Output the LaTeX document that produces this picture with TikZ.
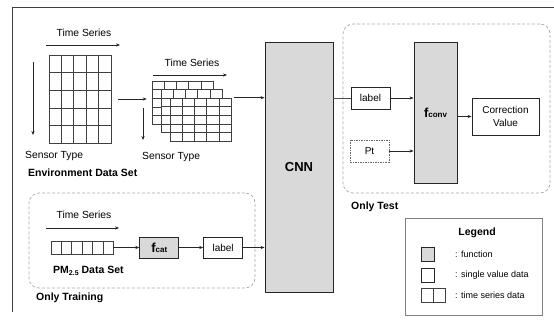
\documentclass[tikz,border=0pt]{standalone}
\usepackage{fontspec}
\setmainfont{Liberation Sans}
\usetikzlibrary{arrows.meta,calc,positioning}
\definecolor{fngray}{RGB}{217,217,217}
\definecolor{dashgray}{RGB}{170,170,170}
\definecolor{linegray}{RGB}{64,64,64}
\tikzstyle{fnbox} = [rectangle, draw=black!85, fill=fngray, line width=0.9pt, inner sep=0pt]
\tikzstyle{valbox} = [rectangle, draw=black!85, fill=white, line width=0.9pt, inner sep=0pt,
    align=center, font=\fontsize{10}{13}\selectfont]
\tikzstyle{serbox} = [rectangle, draw=black!75, fill=white, line width=0.6pt, inner sep=0pt]
\tikzstyle{cell} = [draw=black!75, line width=0.6pt]
\tikzstyle{region} = [rectangle, draw=dashgray, dash pattern=on 3pt off 2pt,
    rounded corners=10pt, line width=0.7pt]
\tikzstyle{arr} = [-{Stealth[length=4pt,width=3.2pt]}, draw=black!85, line width=0.6pt]
\tikzstyle{txt} = [inner sep=0pt, font=\fontsize{10.3}{12}\selectfont]
\tikzstyle{boldtxt} = [inner sep=0pt, font=\bfseries\fontsize{10.5}{12}\selectfont]
\tikzstyle{keytxt} = [inner sep=0pt, anchor=west, font=\fontsize{9}{11}\selectfont]
\newcommand{\fsub}[2]{{\fontsize{13}{14}\selectfont #1}{\fontsize{8}{9}\selectfont #2}}
\newcommand{\lowsub}[1]{\raisebox{-2.2pt}{\fontsize{7}{8}\selectfont #1}}
% cell lines inside a node: name, columns, rows
\newcommand{\cellgrid}[3]{%
  \foreach \i in {1,...,#2}
    \draw[cell] ($(#1.north west)!{\i/#2}!(#1.north east)$) -- ($(#1.south west)!{\i/#2}!(#1.south east)$);
  \foreach \j in {1,...,#3}
    \draw[cell] ($(#1.north west)!{\j/#3}!(#1.south west)$) -- ($(#1.north east)!{\j/#3}!(#1.south east)$);
}

\begin{document}
\begin{tikzpicture}[x=1pt,y=-1pt]
  \useasboundingbox (0,0) rectangle (554,323);
  \draw[line width=0.8pt, draw=linegray] (12,312) -- (12,7) -- (554,7);

  % environment data set
  \node[serbox, minimum width=62pt, minimum height=88pt] (env) at (80,99) {};
  \cellgrid{env}{5}{5}
  \node[txt] (envtime) at (84,33) {Time Series};
  \coordinate (envtA) at (46,45);
  \coordinate (envtB) at (120,45);
  \draw[arr] (envtA) -- (envtB);
  \coordinate (envsA) at (33,62);
  \coordinate (envsB) at (33,135);
  \draw[arr] (envsA) -- (envsB);
  \node[txt, anchor=west] (envsensor) at (25,156) {Sensor Type};
  \node[boldtxt, anchor=west] (envset) at (28,173) {Environment Data Set};

  % stacked windows
  \node[serbox, minimum width=61pt, minimum height=43pt] (stkA) at (182.5,102.5) {};
  \cellgrid{stkA}{5}{5}
  \node[serbox, minimum width=61pt, minimum height=43pt] (stkB) at (191.5,111) {};
  \cellgrid{stkB}{5}{5}
  \node[serbox, minimum width=61pt, minimum height=43pt] (stkC) at (200.5,119.5) {};
  \cellgrid{stkC}{5}{5}
  \node[txt] (stktime) at (192,63) {Time Series};
  \coordinate (stktA) at (153,75);
  \coordinate (stktB) at (227,75);
  \draw[arr] (stktA) -- (stktB);
  \coordinate (stksA) at (143,108);
  \coordinate (stksB) at (143,140);
  \draw[arr] (stksA) -- (stksB);
  \node[txt, anchor=west] (stksensor) at (142,157) {Sensor Type};
  \draw[arr, shorten <=7pt, shorten >=5pt] (env.east) -- (env.east -| stkA.west);

  % network
  \node[fnbox, minimum width=68pt, minimum height=250pt] (cnn) at (299,167)
    {\bfseries\fontsize{13}{14}\selectfont CNN};
  \draw[arr, shorten <=3pt] (stkC.north east) -- (stkC.north east -| cnn.west);

  % only training
  \node[region, minimum width=226pt, minimum height=95pt] (train) at (142,240.5) {};
  \node[txt] (sertime) at (84,215) {Time Series};
  \coordinate (sertA) at (46,228);
  \coordinate (sertB) at (119,228);
  \draw[arr] (sertA) -- (sertB);
  \node[serbox, minimum width=62pt, minimum height=13pt] (ser) at (82,247.5) {};
  \cellgrid{ser}{6}{1}
  \node[fnbox, minimum width=39pt, minimum height=21pt, right=26pt of ser] (fcat)
    {\bfseries\fsub{f}{cat}};
  \node[valbox, minimum width=39pt, minimum height=21pt, right=24pt of fcat] (labT) {label};
  \node[boldtxt, anchor=west] (pmset) at (53,271) {PM\lowsub{2.5} Data Set};
  \node[boldtxt, anchor=west] (trainname) at (36,298) {Only Training};
  \draw[arr] (ser) -- (fcat);
  \draw[arr] (fcat) -- (labT);
  \draw[arr] (labT.east) -- (labT.east -| cnn.west);

  % only test
  \node[region, minimum width=207pt, minimum height=169pt] (test) at (446.5,108.5) {};
  \node[valbox, minimum width=39pt, minimum height=22pt] (labE) at (370.5,98) {label};
  \node[valbox, draw=black!60, line width=0.8pt, dash pattern=on 1.5pt off 1pt,
    minimum width=39pt, minimum height=22pt] (pt) at (369.5,151) {Pt};
  \node[fnbox, minimum width=43pt, minimum height=141pt] (fconv) at (435.5,112.5)
    {\bfseries\fsub{f}{conv}};
  \node[valbox, minimum width=67pt, minimum height=37pt] (corr) at (505.5,116.5)
    {Correction\\Value};
  \node[boldtxt, anchor=west] (testname) at (351,207) {Only Test};
  \draw[draw=black!70, line width=0.6pt] (cnn.east |- labE.west) -- (labE.west);
  \draw[arr] (labE.east) -- (labE.east -| fconv.west);
  \draw[arr] (pt.east) -- (pt.east -| fconv.west);
  \draw[arr] (fconv.east |- corr.west) -- (corr.west);

  % legend
  \node[rectangle, draw=black!50, line width=0.7pt, minimum width=137pt,
    minimum height=97pt] (legend) at (473.5,266.5) {};
  \node[boldtxt] (legname) at (477,233) {Legend};
  \node[fnbox, line width=0.8pt, minimum width=13pt, minimum height=14pt] (keyfn) at (427.5,254) {};
  \node[valbox, line width=0.8pt, minimum width=13pt, minimum height=14pt] (keyval) at (427.5,275) {};
  \node[serbox, minimum width=24pt, minimum height=14pt] (keyser) at (433,295) {};
  \cellgrid{keyser}{2}{1}
  \node[keytxt] (keyfntxt) at (455,254) {: function};
  \node[keytxt] (keyvaltxt) at (455,275) {: single value data};
  \node[keytxt] (keysertxt) at (455,295) {: time series data};
\end{tikzpicture}
\end{document}
